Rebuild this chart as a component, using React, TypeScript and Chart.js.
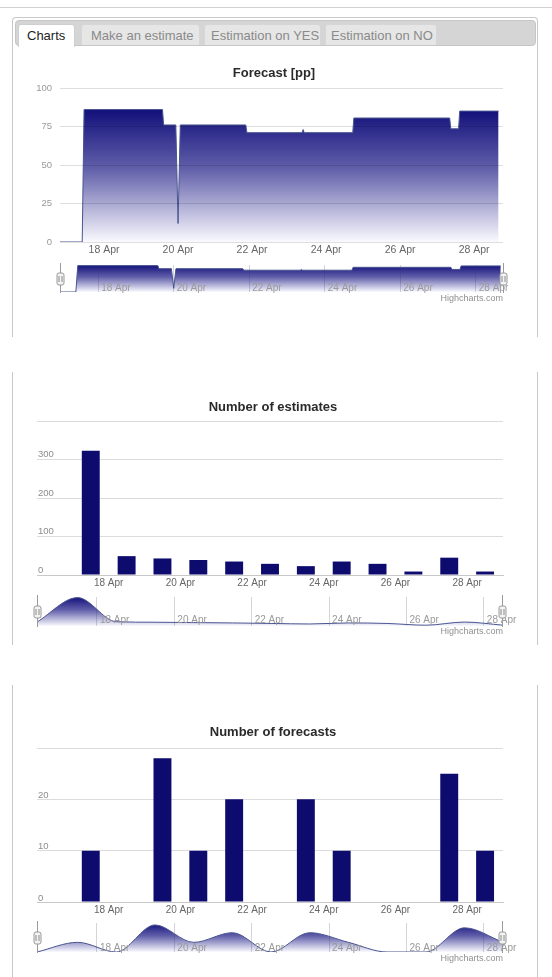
import React, { useEffect, useRef } from 'react';
import { Chart, registerables } from 'chart.js';

Chart.register(...registerables);

const FONT = "'Liberation Sans', Arial, Helvetica, sans-serif";
Chart.defaults.font.family = FONT;

// ---------- data ----------
const tabLabels = ['Charts', 'Make an estimate', 'Estimation on YES', 'Estimation on NO'];

// x-axis ticks (day of April) and their labels
const tickDays = [18, 20, 22, 24, 26, 28];
const tickLabels = ['18 Apr', '20 Apr', '22 Apr', '24 Apr', '26 Apr', '28 Apr'];

// Forecast [pp]: time (fractional day of April) and value
const forecastTimes = [16.81, 17.41, 17.46, 19.58, 19.61, 19.94, 20.0, 20.06, 21.83, 21.86, 23.35, 23.38, 23.41, 24.72, 24.75, 27.34, 27.37, 27.58, 27.61, 28.66];
const forecastValues = [0, 0, 86, 86, 76, 76, 12, 76, 76, 71, 71, 73, 71, 71, 80.5, 80.5, 73.5, 73.5, 85, 85];

// daily columns (day of April)
const barDates = [17, 18, 19, 20, 21, 22, 23, 24, 25, 26, 27, 28];
const estimateCounts = [323, 49, 43, 39, 35, 29, 23, 35, 29, 9, 45, 9];
const forecastCounts = [10, 0, 28, 10, 20, 0, 20, 10, 0, 0, 25, 10];

// navigator series start (left edge of navigator)
const navStartDay = 16.45;
const estimatesNavStart = 45;
const forecastsNavStart = 0;

// ---------- helpers ----------
const NAVY = '#0e0b6f';
const LINE = '#4a5590';

const dayTicks = (scale: any) => {
  scale.ticks = tickDays.map((v) => ({ value: v }));
};
const dayLabel = (_v: any, i: number) => tickLabels[i];

const gradientFill = (topValue?: number) => (context: any) => {
  const chart = context.chart;
  const area = chart.chartArea;
  if (!area) return 'rgba(0,0,0,0)';
  const top = topValue !== undefined ? chart.scales.y.getPixelForValue(topValue) : area.top;
  const g = chart.ctx.createLinearGradient(0, top, 0, area.bottom);
  g.addColorStop(0, 'rgb(18,16,122)');
  g.addColorStop(0.45, 'rgb(98,96,170)');
  g.addColorStop(1, 'rgb(250,250,255)');
  return g;
};

const handlesPlugin = {
  id: 'navHandles',
  afterDraw(chart: any) {
    const { ctx, chartArea } = chart;
    const { left, right, top, bottom } = chartArea;
    ctx.save();
    ctx.lineWidth = 1;
    for (const x of [left, right]) {
      const cx = Math.round(x) + 0.5;
      ctx.strokeStyle = '#9a9a9a';
      ctx.beginPath();
      ctx.moveTo(cx, top - 2);
      ctx.lineTo(cx, bottom + 1);
      ctx.stroke();
      const cy = Math.round((top + bottom) / 2);
      ctx.fillStyle = '#f3f3f3';
      ctx.beginPath();
      ctx.roundRect(cx - 3.5, cy - 6, 7, 12, 2);
      ctx.fill();
      ctx.stroke();
      ctx.strokeStyle = '#8a8a8a';
      ctx.beginPath();
      ctx.moveTo(cx - 1.5, cy - 3);
      ctx.lineTo(cx - 1.5, cy + 3);
      ctx.moveTo(cx + 1.5, cy - 3);
      ctx.lineTo(cx + 1.5, cy + 3);
      ctx.stroke();
    }
    ctx.restore();
  },
};

const basePlugins = { legend: { display: false }, tooltip: { enabled: false } };

// invisible right-hand spacer axis so that the title is centred like the original
const spacerAxis = (w: number) => ({
  position: 'right',
  afterFit: (s: any) => { s.width = w; },
  grid: { display: false, drawTicks: false },
  border: { display: false },
  ticks: { display: false },
});

// ---------- chart configs ----------
const forecastMain = () => ({
  type: 'line',
  data: {
    datasets: [
      {
        data: forecastTimes.map((t, i) => ({ x: t, y: forecastValues[i] })),
        borderColor: LINE,
        borderWidth: 1,
        pointRadius: 0,
        tension: 0,
        fill: 'origin',
        backgroundColor: gradientFill(Math.max(...forecastValues)),
      },
    ],
  },
  options: {
    responsive: false,
    animation: false,
    layout: { padding: { left: 35, right: 39, top: 0, bottom: 0 } },
    plugins: {
      ...basePlugins,
      title: {
        display: true,
        text: 'Forecast [pp]',
        color: '#2a2a2a',
        font: { family: FONT, size: 13, weight: 'bold' },
        padding: { top: 10.2, bottom: 7.2 },
      },
    },
    scales: {
      x: {
        type: 'linear',
        min: 16.81,
        max: 28.78,
        afterBuildTicks: dayTicks,
        afterFit: (s: any) => { s.height = 16; },
        grid: { display: false, drawTicks: false },
        border: { display: false },
        ticks: { callback: dayLabel, color: '#666', font: { family: FONT, size: 10.5 }, padding: 2, autoSkip: false, maxRotation: 0 },
      },
      y: {
        min: 0,
        max: 100,
        afterFit: (s: any) => { s.width = 25; },
        grid: { color: 'rgba(0,0,0,0.13)', drawTicks: false, z: 1 },
        border: { display: false },
        ticks: { stepSize: 25, padding: 8, color: '#999', font: { family: FONT, size: 9.5 } },
      },
      y2: spacerAxis(10),
    },
  },
});

const navConfig = (
  points: { x: number; y: number }[],
  min: number,
  max: number,
  yMax: number,
  padLeft: number,
  padRight: number,
  padTop: number,
  axisH: number,
  labelPad: number,
  smooth: boolean,
) => ({
  type: 'line',
  data: {
    datasets: [
      {
        data: points,
        borderColor: LINE,
        borderWidth: 1,
        pointRadius: 0,
        tension: 0,
        cubicInterpolationMode: smooth ? 'monotone' : 'default',
        fill: 'origin',
        backgroundColor: gradientFill(),
      },
    ],
  },
  options: {
    responsive: false,
    animation: false,
    layout: { padding: { left: padLeft, right: padRight, top: padTop, bottom: 0 } },
    plugins: basePlugins,
    scales: {
      x: {
        type: 'linear',
        min,
        max,
        afterBuildTicks: dayTicks,
        afterFit: (s: any) => { s.height = axisH; },
        grid: { color: 'rgba(60,60,90,0.22)', drawTicks: false, z: 1 },
        border: { display: false },
        ticks: {
          callback: dayLabel,
          mirror: true,
          align: 'start',
          labelOffset: 3,
          padding: labelPad,
          color: '#9a9a9a',
          font: { family: FONT, size: 10 },
          autoSkip: false,
          maxRotation: 0,
          z: 1,
        },
      },
      y: { display: false, min: 0, max: yMax },
    },
  },
  plugins: [handlesPlugin],
});

const barConfig = (
  title: string,
  counts: number[],
  yMax: number,
  step: number,
  titlePad: { top: number; bottom: number },
  axisH: number,
  labelOffset: number,
) => ({
  type: 'bar',
  data: {
    datasets: [
      {
        // columns are centred at noon of each day
        data: barDates.map((d, i) => ({ x: d + 0.5, y: counts[i] })),
        backgroundColor: NAVY,
        borderWidth: 0,
        barPercentage: 0.5,
        categoryPercentage: 1,
      },
    ],
  },
  options: {
    responsive: false,
    animation: false,
    layout: { padding: { left: 37, right: 43, top: 0, bottom: 0 } },
    plugins: {
      ...basePlugins,
      title: {
        display: true,
        text: title,
        color: '#2a2a2a',
        font: { family: FONT, size: 13, weight: 'bold' },
        padding: titlePad,
      },
    },
    scales: {
      x: {
        type: 'linear',
        min: 16,
        max: 29,
        offset: false,
        afterBuildTicks: dayTicks,
        afterFit: (s: any) => { s.height = axisH; },
        grid: { display: false, drawTicks: false, offset: false },
        border: { display: true, color: '#c8c8c8' },
        ticks: { callback: dayLabel, color: '#666', font: { family: FONT, size: 10 }, padding: 2, autoSkip: false, maxRotation: 0 },
      },
      y: {
        min: 0,
        max: yMax,
        afterFit: (s: any) => { s.width = 0; },
        grid: { color: '#dcdcdc', drawTicks: false },
        border: { display: false },
        ticks: {
          stepSize: step,
          mirror: true,
          padding: 1,
          labelOffset,
          color: '#8c8c8c',
          font: { family: FONT, size: 9.5 },
          callback: (v: any, i: number, ticks: any[]) => (i === ticks.length - 1 ? '' : String(v)),
        },
      },
      y2: spacerAxis(6),
    },
  },
});

const forecastNav = () =>
  navConfig(
    forecastTimes.map((t, i) => ({ x: t, y: forecastValues[i] })),
    16.99, 28.72, 88, 60, 49, 7, 3, -2, false,
  );

const estimatesNav = () =>
  navConfig(
    [{ x: navStartDay, y: estimatesNavStart }, ...barDates.map((d, i) => ({ x: d + 0.5, y: estimateCounts[i] }))],
    16.45, 28.47, 330, 37, 50, 7, 4, 0, true,
  );

const forecastsNav = () =>
  navConfig(
    [{ x: navStartDay, y: forecastsNavStart }, ...barDates.map((d, i) => ({ x: d + 0.5, y: forecastCounts[i] }))],
    16.45, 28.47, 30, 37, 50, 8, 3, -2, true,
  );

// ---------- components ----------
type Box = { left: number; top: number; width: number; height: number };

function ChartCanvas({ box, make }: { box: Box; make: () => any }) {
  const ref = useRef<HTMLCanvasElement>(null);
  useEffect(() => {
    const chart = new Chart(ref.current as HTMLCanvasElement, make());
    return () => chart.destroy();
  }, []);
  return (
    <canvas
      ref={ref}
      width={box.width}
      height={box.height}
      style={{ position: 'absolute', left: box.left, top: box.top, width: box.width, height: box.height, display: 'block' }}
    />
  );
}

const tabBoxes = [
  { left: 18, width: 57, textLeft: 8 },
  { left: 81, width: 119, textLeft: 9 },
  { left: 204, width: 117, textLeft: 6 },
  { left: 325, width: 112, textLeft: 5 },
];

function VLine({ x, y1, y2 }: { x: number; y1: number; y2: number }) {
  return <div style={{ position: 'absolute', left: x, top: y1, width: 1, height: y2 - y1, background: '#c8c8c8' }} />;
}

function Credit({ top }: { top: number }) {
  return (
    <div style={{ position: 'absolute', right: 49, top, fontSize: 9, lineHeight: '11px', color: '#909090', fontFamily: FONT }}>
      Highcharts.com
    </div>
  );
}

export default function App() {
  return (
    <div style={{ position: 'absolute', left: 0, top: 0, width: 552, height: 977, overflow: 'hidden', background: '#fff', fontFamily: FONT }}>
      {/* top rule */}
      <div style={{ position: 'absolute', left: 0, top: 7, width: 552, height: 1, background: '#d2d2d2' }} />
      {/* panel 1 frame */}
      <div
        style={{
          position: 'absolute', left: 12, top: 17, width: 526, height: 320, boxSizing: 'border-box',
          border: '1px solid #c8c8c8', borderBottom: 'none', borderRadius: '4px 4px 0 0',
        }}
      />
      {/* tab bar */}
      <div
        style={{
          position: 'absolute', left: 15, top: 20, width: 521, height: 26, boxSizing: 'border-box',
          background: '#d5d5d5', border: '1px solid #c6c6c6', borderRadius: 4,
        }}
      />
      {tabLabels.map((label, i) => {
        const b = tabBoxes[i];
        const active = i === 0;
        return (
          <div
            key={label}
            style={{
              position: 'absolute', left: b.left, top: 24, width: b.width, height: active ? 23 : 21, boxSizing: 'border-box',
              background: active ? '#fff' : '#e6e6e6', border: `1px solid ${active ? '#cfcfcf' : '#d6d6d6'}`,
              borderBottom: 'none', borderRadius: '3px 3px 0 0', paddingLeft: b.textLeft,
              fontSize: 13, lineHeight: '21px', color: active ? '#222' : '#8a8a8a', whiteSpace: 'nowrap',
            }}
          >
            {label}
          </div>
        );
      })}

      {/* panel 2 and 3 side borders */}
      <VLine x={12} y1={372} y2={645} />
      <VLine x={537} y1={372} y2={645} />
      <VLine x={12} y1={685} y2={977} />
      <VLine x={537} y1={685} y2={977} />

      {/* chart 1 */}
      <ChartCanvas box={{ left: 0, top: 55, width: 552, height: 203 }} make={forecastMain} />
      <ChartCanvas box={{ left: 0, top: 258, width: 552, height: 37 }} make={forecastNav} />
      <Credit top={293} />

      {/* chart 2 */}
      <ChartCanvas box={{ left: 0, top: 385, width: 552, height: 207 }} make={() => barConfig('Number of estimates', estimateCounts, 400, 100, { top: 14.2, bottom: 6.2 }, 17, -5)} />
      <ChartCanvas box={{ left: 0, top: 590, width: 552, height: 40 }} make={estimatesNav} />
      <Credit top={626} />

      {/* chart 3 */}
      <ChartCanvas box={{ left: 0, top: 710, width: 552, height: 207 }} make={() => barConfig('Number of forecasts', forecastCounts, 30, 10, { top: 14.2, bottom: 8.2 }, 15, -4)} />
      <ChartCanvas box={{ left: 0, top: 915, width: 552, height: 40 }} make={forecastsNav} />
      <Credit top={953} />
    </div>
  );
}
